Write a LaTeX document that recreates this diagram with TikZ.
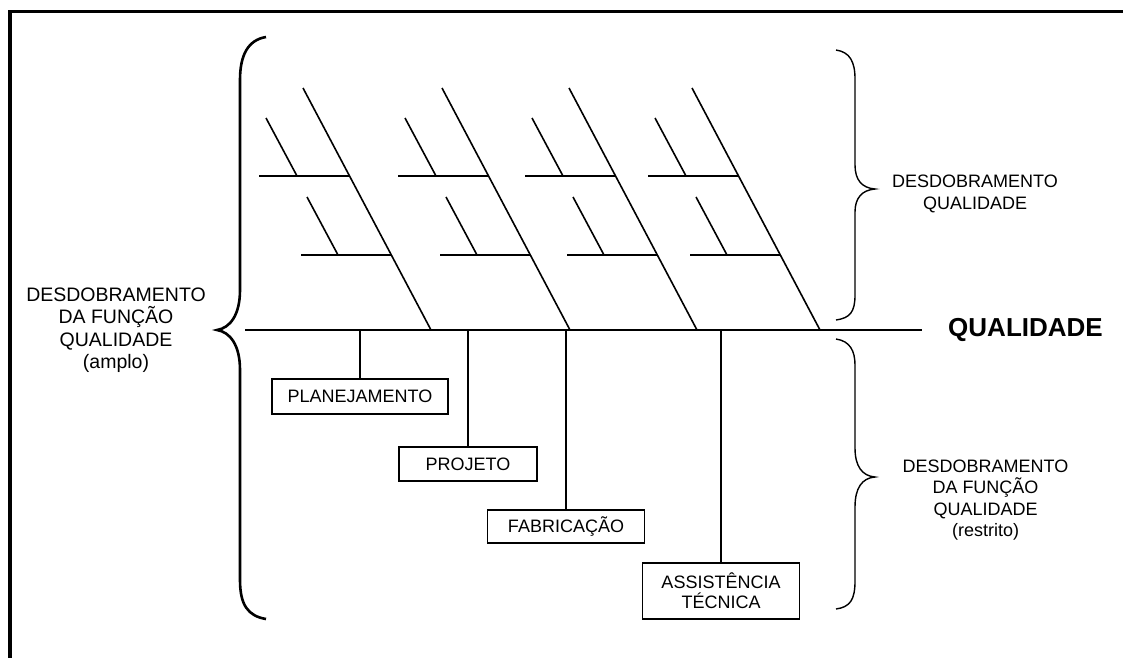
\documentclass[tikz,border=0pt]{standalone}
\usepackage{fontspec}
\setmainfont{Liberation Sans}
\begin{document}
\begin{tikzpicture}[x=1pt,y=-1pt,
  bone/.style={line width=1.6pt},
  framel/.style={line width=3.5pt},
  bigbrace/.style={line width=2.6pt},
  smallbrace/.style={line width=1.4pt},
  box/.style={draw,line width=1.5pt,inner sep=0pt,align=center,font=\fontsize{18}{20}\selectfont},
  lbl/.style={align=center,font=\fontsize{18}{21.5}\selectfont}]
\useasboundingbox (0,0) rectangle (1123,657);
\begin{scope}
\clip (0,0) rectangle (1123,657);
\draw[framel] (10,700) -- (10,11.5) -- (1200,11.5);
\end{scope}
% spine
\coordinate (S0) at (245,330);
\coordinate (S1) at (922,330);
\draw[bone] (S0) -- (S1);
% bones
\foreach \T/\n in {303/a,442/b,569/c,692/d}{
  \coordinate (\n top) at (\T,88);
  \coordinate (\n bot) at (\T+128,330);
  \draw[bone] (\n top) -- (\n bot);
  \coordinate (\n u1) at (\T-44,176);
  \coordinate (\n u2) at (\T+46.5,176);
  \draw[bone] (\n u1) -- (\n u2);
  \coordinate (\n us1) at (\T-37,118);
  \coordinate (\n us2) at (\T-6,176);
  \draw[bone] (\n us1) -- (\n us2);
  \coordinate (\n l1) at (\T-2,255);
  \coordinate (\n l2) at (\T+88.3,255);
  \draw[bone] (\n l1) -- (\n l2);
  \coordinate (\n ls1) at (\T+4,197);
  \coordinate (\n ls2) at (\T+35,255);
  \draw[bone] (\n ls1) -- (\n ls2);
}
% boxes
\node[box,minimum width=176pt,minimum height=35pt] (plan) at (360,396.5) {PLANEJAMENTO};
\node[box,minimum width=138pt,minimum height=34pt] (proj) at (468,464) {PROJETO};
\node[box,minimum width=157pt,minimum height=33pt] (fab) at (566,526.5) {FABRICAÇÃO};
\node[box,minimum width=157pt,minimum height=56pt] (assist) at (721,591) {ASSISTÊNCIA\\TÉCNICA};
\foreach \b in {plan,proj,fab,assist}{
  \draw[bone] (\b.north) -- (\b.north |- S0);
}
% labels
\node[lbl,font=\fontsize{19.5}{22.5}\selectfont] (left) at (116,330) {DESDOBRAMENTO\\DA FUNÇÃO\\QUALIDADE\\(amplo)};
\node[font=\fontsize{26}{30}\selectfont\bfseries] (qual) at (1025.5,330) {QUALIDADE};
\node[lbl] (ur) at (975,194) {DESDOBRAMENTO\\QUALIDADE};
\node[lbl] (lr) at (985.5,500) {DESDOBRAMENTO\\DA FUNÇÃO\\QUALIDADE\\(restrito)};
% braces
\draw[bigbrace] (266,37) .. controls (248,40) and (240,55) .. (240,80) -- (240,290)
  .. controls (240,315) and (230,328) .. (217,330)
  .. controls (230,332) and (240,345) .. (240,370) -- (240,580)
  .. controls (240,605) and (248,616) .. (266,619);
\draw[smallbrace] (836,50) .. controls (850,52) and (855,62) .. (855,79) -- (855,165)
  .. controls (855,180) and (862,188) .. (875,189)
  .. controls (862,190) and (855,198) .. (855,212) -- (855,295)
  .. controls (855,312) and (850,318) .. (836,320);
\draw[smallbrace] (836,339) .. controls (850,341) and (855,351) .. (855,365) -- (855,448)
  .. controls (855,466) and (862,476) .. (875,477)
  .. controls (862,478) and (855,488) .. (855,507) -- (855,581)
  .. controls (855,600) and (850,607) .. (836,609);
\end{tikzpicture}
\end{document}
